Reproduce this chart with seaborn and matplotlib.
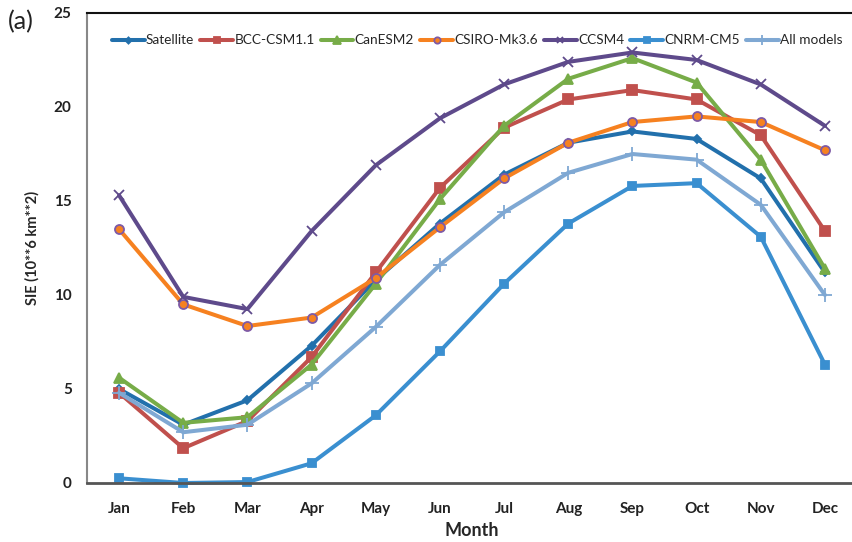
import numpy as np
import pandas as pd
import matplotlib
matplotlib.use('Agg')
import matplotlib.pyplot as plt
import seaborn as sns

months = ['Jan', 'Feb', 'Mar', 'Apr', 'May', 'Jun', 'Jul', 'Aug', 'Sep', 'Oct', 'Nov', 'Dec']

satellite = [5.0, 3.1, 4.4, 7.3, 10.8, 13.8, 16.4, 18.1, 18.7, 18.3, 16.2, 11.2]
bcc_csm = [4.8, 1.85, 3.3, 6.7, 11.2, 15.7, 18.9, 20.4, 20.9, 20.4, 18.5, 13.4]
canesm2 = [5.6, 3.2, 3.5, 6.3, 10.6, 15.1, 19.0, 21.5, 22.6, 21.3, 17.2, 11.4]
csiro = [13.5, 9.5, 8.35, 8.8, 10.9, 13.6, 16.2, 18.1, 19.2, 19.5, 19.2, 17.7]
ccsm4 = [15.3, 9.9, 9.25, 13.4, 16.9, 19.4, 21.2, 22.4, 22.9, 22.5, 21.2, 19.0]
cnrm = [0.25, 0.0, 0.05, 1.05, 3.6, 7.0, 10.6, 13.8, 15.8, 15.95, 13.1, 6.3]
all_models = [4.8, 2.7, 3.1, 5.3, 8.3, 11.6, 14.4, 16.5, 17.5, 17.2, 14.8, 10.0]

sns.set_style('white')
plt.rcParams['font.family'] = ['Lato', 'DejaVu Sans']

fig = plt.figure(figsize=(8.52, 5.42), dpi=100)
ax = fig.add_axes([87 / 852, 59 / 542, 770 / 852, 470 / 542])

x = np.arange(12)
# (name, values, line colour, marker, marker size, face, edge)
series = [
    ('Satellite', satellite, '#2270AC', 'D', 4.5, '#2270AC', '#2270AC'),
    ('BCC-CSM1.1', bcc_csm, '#C0504D', 's', 6.5, '#C0504D', '#C0504D'),
    ('CanESM2', canesm2, '#77AC48', '^', 7.5, '#77AC48', '#77AC48'),
    ('CSIRO-Mk3.6', csiro, '#F68120', 'o', 6.5, '#F68120', '#7E5AA6'),
    ('CCSM4', ccsm4, '#5E4A8B', 'x', 6.5, '#5E4A8B', '#5E4A8B'),
    ('CNRM-CM5', cnrm, '#3A8FD0', 's', 6, '#3A8FD0', '#3A8FD0'),
    ('All models', all_models, '#7FA8D3', '+', 10, '#7FA8D3', '#7FA8D3'),
]
for name, vals, col, mk, ms, fc, ec in series:
    sns.lineplot(x=x, y=vals, ax=ax, color=col, lw=2.9, marker=mk, markersize=ms,
                 markerfacecolor=fc, markeredgecolor=ec, markeredgewidth=1.3,
                 label=name, clip_on=False)

ax.set_xlim(-0.5, 11.5)
ax.set_ylim(0, 25)
ax.set_yticks([0, 5, 10, 15, 20, 25])
ax.set_xticks(x)
ax.set_xticklabels(months, fontsize=11, fontweight='bold', color='#222222')
ax.set_xticks(np.arange(-0.5, 12, 1), minor=True)
ax.tick_params(axis='x', which='major', length=0, pad=14)
ax.tick_params(axis='x', which='minor', length=4, width=1, color='#999999', direction='out')
ax.tick_params(axis='y', length=5, width=1, color='#999999', direction='out', pad=6)
for t in ax.get_yticklabels():
    t.set_fontweight('bold')
    t.set_fontsize(11)
    t.set_color('#222222')

ax.spines['left'].set_color('#888888')
ax.spines['left'].set_linewidth(1.5)
ax.spines['bottom'].set_color('#555555')
ax.spines['bottom'].set_linewidth(2)
ax.spines['top'].set_color('#111111')
ax.spines['top'].set_linewidth(1.5)
ax.spines['right'].set_visible(False)

ax.set_xlabel('Month', fontsize=13, fontweight='bold', labelpad=4)
ax.set_ylabel('SIE (10**6 km**2)', fontsize=10.5, fontweight='bold', labelpad=10)

leg = ax.legend(loc='upper left', bbox_to_anchor=(0.02, 0.975), ncol=7, frameon=False,
                fontsize=9.8, handlelength=2.4, handletextpad=0.1, columnspacing=0.45,
                borderaxespad=0.3, markerscale=0.7)

fig.text(8 / 852, 1 - 22 / 542, '(a)', fontsize=18, va='center', ha='left', color='#222222')

fig.savefig('out.png', dpi=100)
